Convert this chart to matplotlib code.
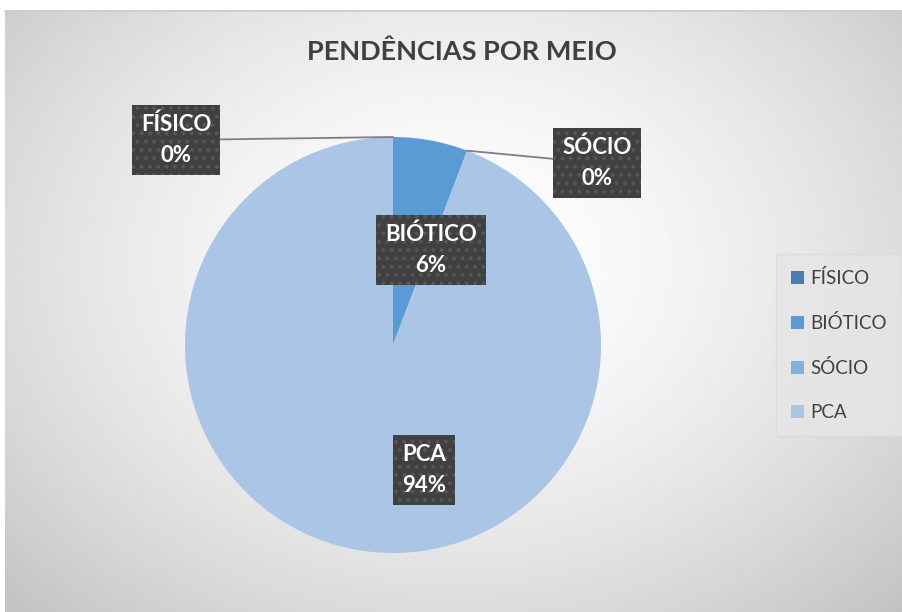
import numpy as np
import matplotlib
matplotlib.use("Agg")
import matplotlib.pyplot as plt
from matplotlib.patches import Patch

plt.rcParams['font.family'] = ['Lato', 'DejaVu Sans']
plt.rcParams['hatch.linewidth'] = 1.6

# data
categories = ['FÍSICO', 'BIÓTICO', 'SÓCIO', 'PCA']
values = [0.0, 5.8, 0.0, 94.2]
colors = ['#4a7eb0', '#5b9bd5', '#84b0e0', '#abc5e6']
title = 'PENDÊNCIAS POR MEIO'

W, H = 903, 612
fig = plt.figure(figsize=(W / 100, H / 100), dpi=100)
fig.patch.set_facecolor('white')

# chart area background with radial gradient
bg = fig.add_axes([5 / W, 0, (W - 5) / W, (H - 11) / H])
yy, xx = np.mgrid[0:1:300j, 0:1:450j]
r = np.sqrt(((xx - 0.5) / 0.5) ** 2 + ((yy - 0.42) / 0.58) ** 2) / np.sqrt(2)
shade = 1.0 - 0.24 * np.clip(r, 0, 1) ** 1.6
bg.imshow(shade, cmap='gray', vmin=0, vmax=1, aspect='auto',
          extent=[0, 1, 0, 1], origin='upper', interpolation='bilinear')
bg.set_xlim(0, 1)
bg.set_ylim(0, 1)
bg.axis('off')
fig.add_artist(plt.Line2D([5 / W, 1], [1 - 11 / H, 1 - 11 / H],
                          color='#c8c8c8', lw=1.2, transform=fig.transFigure))

# pie axes: centre (393, 345), radius 208 px
cx, cy, rad = 393, 345, 208
ax = fig.add_axes([(cx - rad) / W, (H - cy - rad) / H, 2 * rad / W, 2 * rad / H])
wedges, _ = ax.pie(values, colors=colors, startangle=90, counterclock=False,
                   radius=1.0, wedgeprops=dict(linewidth=0))
ax.set_xlim(-1, 1)
ax.set_ylim(-1, 1)
ax.set_aspect('equal')
ax.axis('off')

total = sum(values)
box = dict(boxstyle='square,pad=0.4', facecolor='#404040', edgecolor='#565656',
           linewidth=0, hatch='..')

def px(x, y):
    return ((x - cx) / rad, (cy - y) / rad)

# label positions (pixel centres) and whether a leader line is drawn
label_pos = {'FÍSICO': (176, 140), 'BIÓTICO': (431, 250),
             'SÓCIO': (597, 163), 'PCA': (424, 470)}
leader = {'FÍSICO': True, 'BIÓTICO': False, 'SÓCIO': True, 'PCA': False}
lab_style = dict(ha='center', va='center', color='white', fontsize=16,
                 fontweight='bold', linespacing=1.6, bbox=box)

for w, name, v in zip(wedges, categories, values):
    txt = f'{name}\n{v / total * 100:.0f}%'
    tx, ty = px(*label_pos[name])
    if leader[name]:
        ang = np.deg2rad(w.theta2 if v == 0 else (w.theta1 + w.theta2) / 2)
        ax.annotate(txt, xy=(np.cos(ang), np.sin(ang)), xytext=(tx, ty),
                    arrowprops=dict(arrowstyle='-', color='#7f7f7f', lw=1.3,
                                    shrinkA=0, shrinkB=0),
                    annotation_clip=False, **lab_style)
    else:
        ax.text(tx, ty, txt, **lab_style)

fig.text(462 / W, 1 - 52 / H, title, ha='center', va='center',
         fontsize=19.5, fontweight='bold', color='#404040')

handles = [Patch(facecolor=c, edgecolor='none') for c in colors]
leg = fig.legend(handles, categories, loc='center', bbox_to_anchor=(839 / W, 1 - 345 / H),
                 frameon=True, fontsize=13.5, labelcolor='#404040', handlelength=0.7,
                 handleheight=0.7, handletextpad=0.35, labelspacing=1.45,
                 borderpad=0.8, fancybox=False)
leg.get_frame().set_facecolor('#e6e6e6')
leg.get_frame().set_edgecolor('#dadada')

fig.savefig('out.png', dpi=100)
